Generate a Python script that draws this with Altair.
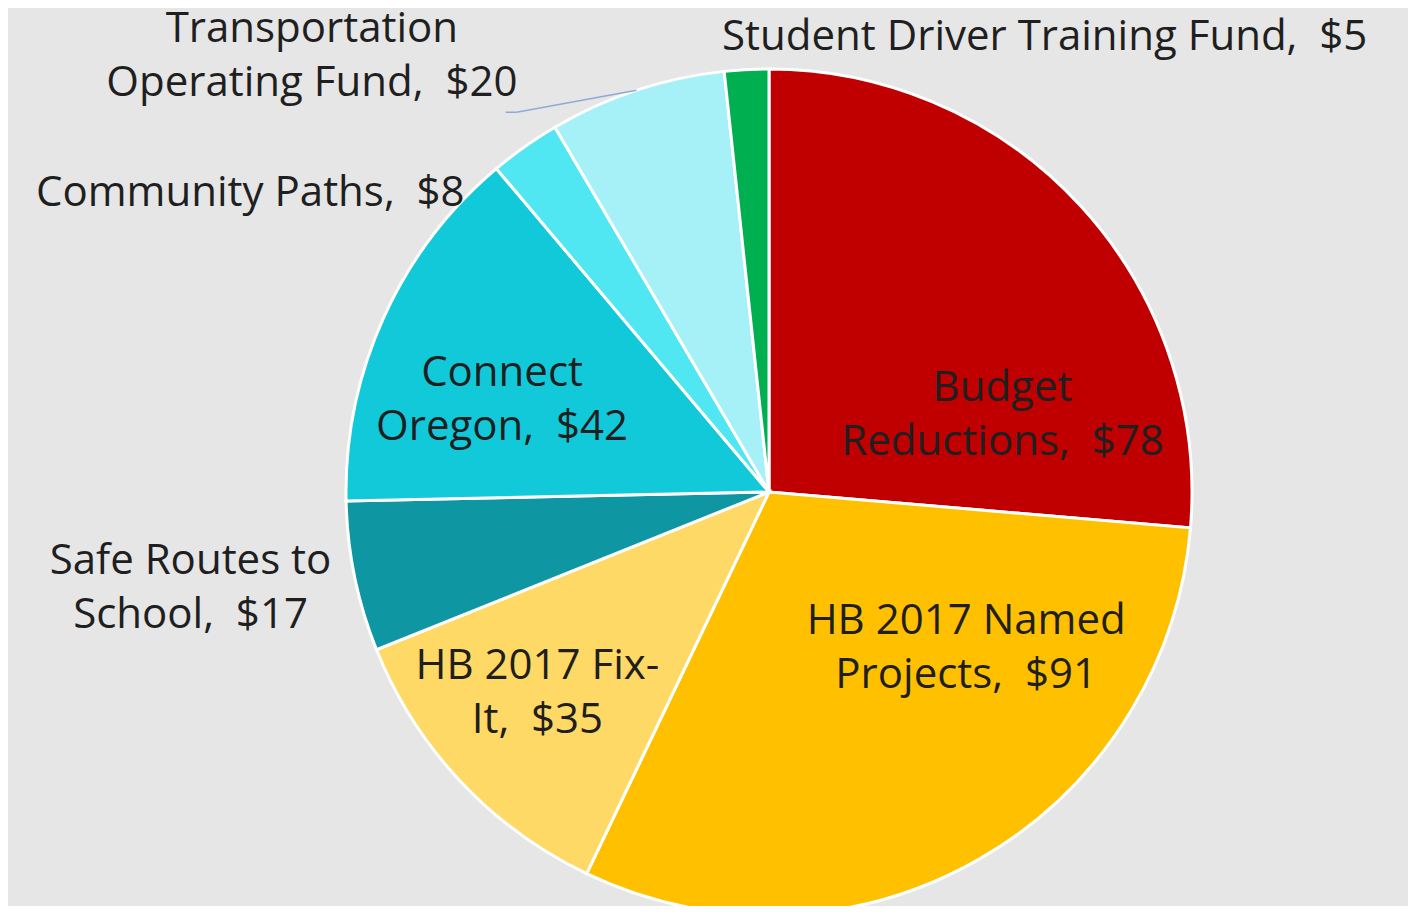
import altair as alt
import pandas as pd

names = ["Budget Reductions", "HB 2017 Named Projects", "HB 2017 Fix-It",
         "Safe Routes to School", "Connect Oregon", "Community Paths",
         "Transportation Operating Fund", "Student Driver Training Fund"]
wrapped = ["Budget\nReductions", "HB 2017 Named\nProjects", "HB 2017 Fix-\nIt",
           "Safe Routes to\nSchool", "Connect\nOregon", "Community Paths",
           "Transportation\nOperating Fund", "Student Driver Training Fund"]
values = [78, 91, 35, 17, 42, 8, 20, 5]
colors = ["#c00000", "#ffc000", "#ffd966", "#0e96a3", "#12c9d9", "#50e6f2", "#a6f1f8", "#00b050"]

df = pd.DataFrame({"name": names, "wrapped": wrapped, "value": values,
                   "order": list(range(len(names)))})
total = sum(values)

CX, CY, R = 761, 484, 423
FONT = "Open Sans"

# label placement: (radius from centre along slice mid-angle, dx, dy, align)
label_style = {
    "Budget Reductions": (260, 42, 72, "center"),
    "HB 2017 Named Projects": (260, 68, -97, "center"),
    "HB 2017 Fix-It": (260, -42, -4, "center"),
    "Connect Oregon": (260, -30, -12, "center"),
    "Safe Routes to School": (470, -118, -25, "center"),
    "Community Paths": (470, -33, 85, "right"),
    "Transportation Operating Fund": (470, -310, -17, "center"),
    "Student Driver Training Fund": (470, -22, 14, "left"),
}

base = alt.Chart(df)

pie = base.mark_arc(radius=R, stroke="white", strokeWidth=3).encode(
    theta=alt.Theta("value:Q", stack=True, scale=alt.Scale(domain=[0, total])),
    order=alt.Order("order:Q"),
    color=alt.Color("name:N", scale=alt.Scale(domain=names, range=colors), legend=None),
    x=alt.value(CX),
    y=alt.value(CY),
)

stacked = base.transform_window(
    cum="sum(value)", sort=[alt.SortField("order")], frame=[None, 0]
).transform_calculate(
    ang=f"2*PI*(datum.cum - datum.value/2)/{total}",
    label="datum.wrapped + ',\u00a0 $' + datum.value",
)

layers = [pie]
for nm, (r, dx, dy, align) in label_style.items():
    t = stacked.transform_filter(alt.datum.name == nm).transform_calculate(
        px=f"{CX} + {r}*sin(datum.ang)",
        py=f"{CY} - {r}*cos(datum.ang)",
    ).mark_text(
        dx=dx, dy=dy, align=align, baseline="middle", lineBreak="\n",
        fontSize=42, font=FONT, color="#1f1f1f", lineHeight=54,
    ).encode(
        x=alt.X("px:Q", scale=None, axis=None),
        y=alt.Y("py:Q", scale=None, axis=None),
        text="label:N",
    )
    layers.append(t)

# leader line for Transportation Operating Fund
lead = stacked.transform_filter(alt.datum.name == "Transportation Operating Fund").transform_calculate(
    ex=f"{CX} + {R}*sin(datum.ang)",
    ey=f"{CY} - {R}*cos(datum.ang)",
    kx=f"{CX} + {R}*sin(datum.ang) - 120",
    ky=f"{CY} - {R}*cos(datum.ang) + 22",
    sx=f"{CX} + {R}*sin(datum.ang) - 131",
)
seg1 = lead.mark_rule(color="#8eaadb", strokeWidth=1.5).encode(
    x=alt.X("ex:Q", scale=None), y=alt.Y("ey:Q", scale=None),
    x2="kx:Q", y2="ky:Q")
seg2 = lead.mark_rule(color="#8eaadb", strokeWidth=1.5).encode(
    x=alt.X("kx:Q", scale=None), y=alt.Y("ky:Q", scale=None),
    x2="sx:Q", y2="ky:Q")
layers += [seg1, seg2]

chart = alt.layer(*layers).properties(
    width=1400, height=898, background="#e6e6e6", padding=0,
    autosize=alt.AutoSizeParams(type="none"),
).configure_view(stroke=None)

chart.save("out.html", embed_options={"renderer": "svg", "actions": False})
